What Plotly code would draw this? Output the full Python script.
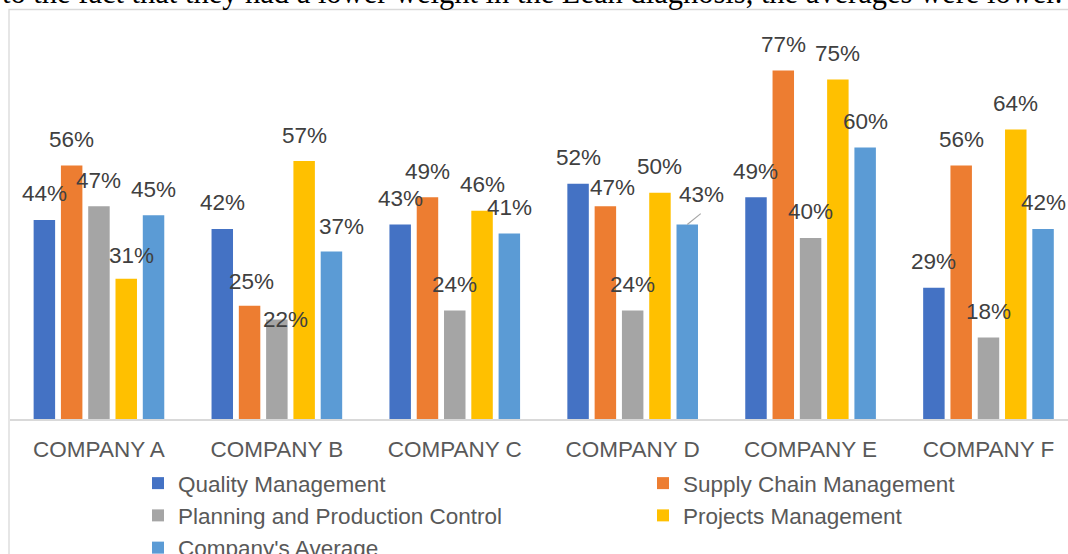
import plotly.graph_objects as go

# ---- data ----
companies = ["COMPANY A", "COMPANY B", "COMPANY C", "COMPANY D", "COMPANY E", "COMPANY F"]
quality_mgmt = [0.44, 0.42, 0.43, 0.52, 0.49, 0.29]
supply_chain_mgmt = [0.56, 0.25, 0.49, 0.47, 0.77, 0.56]
planning_prod_ctrl = [0.47, 0.22, 0.24, 0.24, 0.40, 0.18]
projects_mgmt = [0.31, 0.57, 0.46, 0.50, 0.75, 0.64]
company_average = [0.45, 0.37, 0.41, 0.43, 0.60, 0.42]
series_names = ["Quality Management", "Supply Chain Management",
                "Planning and Production Control", "Projects Management",
                "Company's Average"]
top_text = "to the fact that they had a lower weight in the Lean diagnosis, the averages were lower."

# ---- style ----
series_values = [quality_mgmt, supply_chain_mgmt, planning_prod_ctrl, projects_mgmt, company_average]
colors = ["#4472C4", "#ED7D31", "#A5A5A5", "#FFC000", "#5B9BD5"]
FONT = "Liberation Sans, Arial, sans-serif"
FS = 22.5
W, H = 1068, 554
ML, MR, MT, MB = 10, 0, 14, 135
PW, PH = W - ML - MR, H - MT - MB
BARGAP = 0.233
BARGROUPGAP = 0.213
LABEL_DY = 26
# label nudges (series index, company index) -> (dx px, dy px)
nudges = {(3, 0): (5, 23), (1, 1): (2, 24), (2, 1): (9, 0), (4, 1): (10, 25.5),
          (1, 3): (7, 19)}
leader = {(4, 3): (14, 30)}

fig = go.Figure()
for name, vals, col in zip(series_names, series_values, colors):
    fig.add_trace(go.Bar(name=name, x=companies, y=vals, marker_color=col,
                         marker_line_width=0, hoverinfo="skip"))

n = len(series_values)
slot = (1 - BARGAP) / n
annotations = []
for k, vals in enumerate(series_values):
    for i, v in enumerate(vals):
        xc = i + (k - (n - 1) / 2) * slot
        txt = f"{round(v * 100)}%"
        dx, dy = nudges.get((k, i), (0, LABEL_DY))
        if (k, i) in leader:
            dx, dy = leader[(k, i)]
            annotations.append(dict(x=xc, y=v, xref="x", yref="y", text="",
                                    showarrow=True, arrowhead=0, arrowwidth=1.2,
                                    arrowcolor="#A6A6A6", ax=15, ay=-12))
        annotations.append(dict(x=xc, y=v, xref="x", yref="y", text=txt,
                                showarrow=False, xshift=dx, yshift=dy,
                                xanchor="center", yanchor="middle",
                                font=dict(family=FONT, size=FS, color="#404040")))

annotations.append(dict(x=(0 - ML) / PW, y=1 + (MT - 12) / PH, xref="paper", yref="paper",
                        xanchor="left", yanchor="bottom", showarrow=False,
                        text=top_text,
                        font=dict(family="Liberation Serif, Times New Roman, serif",
                                  size=30.5, color="#000000")))

fig.update_layout(
    width=W, height=H,
    margin=dict(l=ML, r=MR, t=MT, b=MB, pad=0, autoexpand=False),
    paper_bgcolor="white", plot_bgcolor="white",
    barmode="group", bargap=BARGAP, bargroupgap=BARGROUPGAP,
    showlegend=True,
    legend=dict(orientation="h", xref="container", yref="container",
                x=138 / W, y=1 - 462 / H, xanchor="left", yanchor="top",
                entrywidth=460, traceorder="normal",
                font=dict(family=FONT, size=FS, color="#595959"),
                bgcolor="rgba(0,0,0,0)"),
    xaxis=dict(range=[-0.5, 5.447], showgrid=False, zeroline=False,
               showline=True, linecolor="#D9D9D9", linewidth=2,
               ticks="", ticklabelstandoff=9, automargin=False,
               tickfont=dict(family=FONT, size=FS, color="#595959"),
               fixedrange=True),
    yaxis=dict(range=[0, 0.895], visible=False, showgrid=False, zeroline=False,
               automargin=False, fixedrange=True),
    annotations=annotations,
    shapes=[dict(type="rect", xref="paper", yref="paper",
                 x0=(9 - ML) / PW, x1=1.05,
                 y0=-0.5, y1=1 + (MT - 9.5) / PH,
                 line=dict(color="#D9D9D9", width=1.3), fillcolor="rgba(0,0,0,0)",
                 layer="below")],
)

fig.write_html("out.html", post_script="document.body.style.margin='0';",
               config={"displayModeBar": False})
